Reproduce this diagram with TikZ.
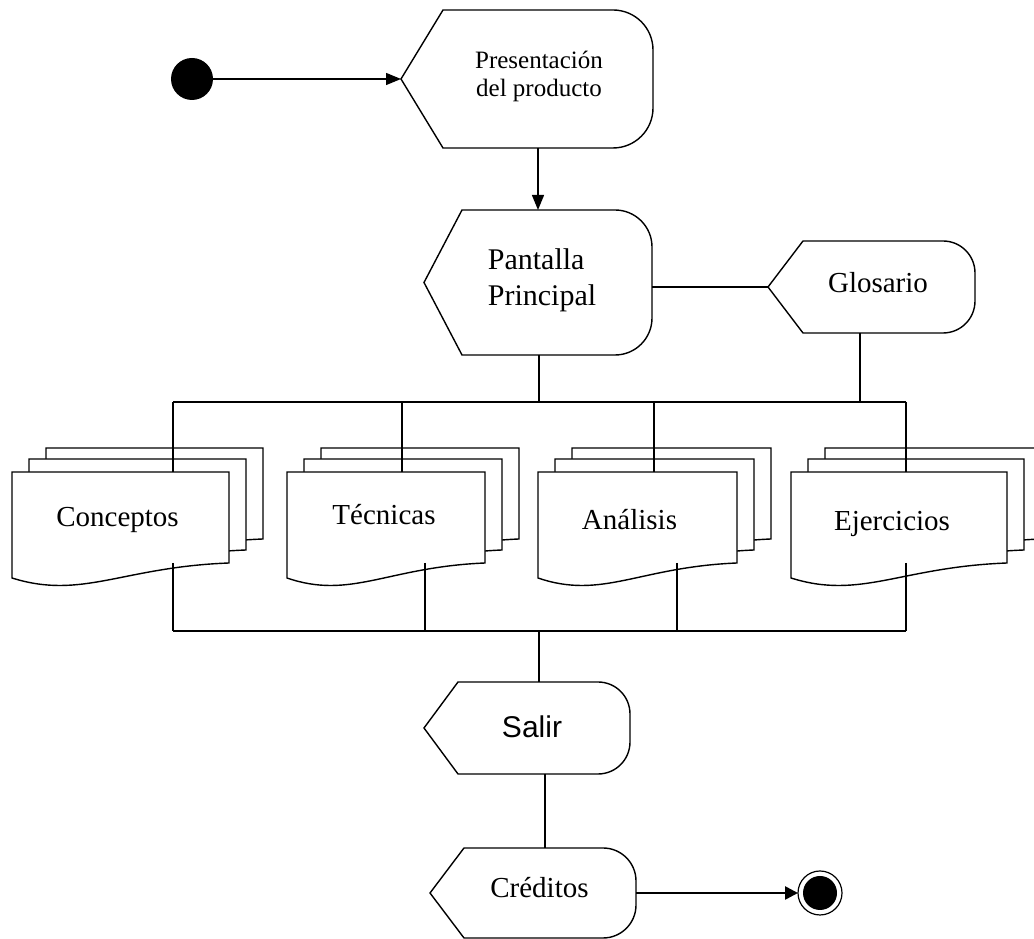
\documentclass[tikz,border=0pt]{standalone}
\usepackage{fontspec}
\setmainfont{Liberation Serif}
\newfontfamily\salirfont{Liberation Sans}
\usetikzlibrary{arrows.meta,calc,backgrounds}

% Outline of a "display" symbol around a frame node: pointed left end, rounded right end.
% #1 node, #2 depth of the point, #3 radius of the right corners
\newcommand\dispoutline[3]{%
  \draw[outline] (#1.west) -- ([xshift=#2]#1.north west) -- ([xshift=-#3]#1.north east)
    arc[start angle=90,end angle=0,radius=#3] -- ([yshift=#3]#1.south east)
    arc[start angle=0,end angle=-90,radius=#3] -- ([xshift=#2]#1.south west) -- cycle;}

% Stack of three wavy-bottomed documents; the frame node is the front sheet.
\newcommand\docstack[1]{%
  \foreach \dx/\dy in {34/24,17/13,0/0}{%
    \draw[outline] ([shift={(\dx,\dy)}]#1.north west) -- ([shift={(\dx,\dy)}]#1.north east)
      -- ([shift={(\dx,\dy)}]#1.south east)
      .. controls ($(#1.south west)!0.507!(#1.south east)+(\dx,\dy-4)$)
      and ($(#1.south west)!0.323!(#1.south east)+(\dx,\dy-37)$)
      .. ([shift={(\dx,\dy-15)}]#1.south west) -- cycle;}}

\begin{document}
\begin{tikzpicture}[x=1pt,y=1pt,
  frame/.style={inner sep=0pt,outer sep=0pt,draw=none},
  lbl/.style={inner sep=0pt,align=center},
  big/.style={font=\fontsize{29}{34}\selectfont},
  outline/.style={draw=black,fill=white,line width=1.4pt,line join=miter},
  conn/.style={draw=black,line width=1.4pt},
  flow/.style={conn,-{Triangle[length=15pt,width=12pt]}},
  flowbold/.style={draw=black,line width=2.6pt,-{Triangle[length=13pt,width=13pt]}},
  startstate/.style={circle,fill=black,draw=none,minimum size=42pt,inner sep=0pt,outer sep=0pt},
  endstate/.style={circle,draw=black,line width=1.2pt,minimum size=44pt,inner sep=0pt,outer sep=0pt,
    path picture={\fill[black] (path picture bounding box.center) circle (17pt);}}
]
\useasboundingbox (0,0) rectangle (1034,939);

% ---- states and screens ----
\node[startstate] (start) at (192,860) {};

\node[frame,minimum width=252pt,minimum height=138pt,
  label={[lbl,name=pres-text,xshift=12pt,yshift=2.5pt,font=\fontsize{25}{28}\selectfont]center:{Presentación\\del producto}}]
  (pres) at (527,860) {};

\node[frame,minimum width=228pt,minimum height=145pt,
  label={[lbl,name=pp-text,align=left,xshift=4pt,yshift=2pt,font=\fontsize{30}{36}\selectfont]center:{Pantalla\\Principal}}]
  (pp) at (538,656.5) {};

\node[frame,minimum width=207pt,minimum height=92pt,
  label={[lbl,big,name=glos-text,xshift=6.5pt,yshift=4pt]center:Glosario}]
  (glos) at (871.5,652) {};

\node[frame,minimum width=217pt,minimum height=91pt,
  label={[lbl,big,name=conc-text,xshift=-3pt,yshift=-2.8pt]center:Conceptos}]
  (conc) at (120.5,421.5) {};
\node[frame,minimum width=198pt,minimum height=91pt,
  label={[lbl,big,name=tec-text,xshift=-2pt,yshift=2.5pt]center:Técnicas}]
  (tec) at (386,421.5) {};
\node[frame,minimum width=199pt,minimum height=91pt,
  label={[lbl,big,name=ana-text,xshift=-8pt,yshift=-2.5pt]center:Análisis}]
  (ana) at (637.5,421.5) {};
\node[frame,minimum width=216pt,minimum height=91pt,
  label={[lbl,big,name=ejer-text,xshift=-7pt,yshift=-6pt]center:Ejercicios}]
  (ejer) at (899,421.5) {};

\node[frame,minimum width=206pt,minimum height=92pt,
  label={[lbl,name=salir-text,xshift=5pt,yshift=1.7pt,font=\salirfont\fontsize{30}{34}\selectfont]center:Salir}]
  (salir) at (527,211) {};

\node[frame,minimum width=206pt,minimum height=90pt,
  label={[lbl,big,name=cred-text,xshift=6.5pt,yshift=5pt]center:Créditos}]
  (cred) at (533,46) {};

\node[endstate] (end) at (820,46) {};

% ---- symbol outlines, beneath texts and connectors ----
\begin{scope}[on background layer]
  \dispoutline{pres}{42pt}{40pt}
  \dispoutline{pp}{38pt}{37pt}
  \dispoutline{glos}{35pt}{32pt}
  \dispoutline{salir}{34pt}{32pt}
  \dispoutline{cred}{34pt}{33pt}
  \docstack{conc}
  \docstack{tec}
  \docstack{ana}
  \docstack{ejer}
\end{scope}

% ---- junctions of the two buses ----
\coordinate (jpp) at (539,537);
\coordinate (jg) at (860,537);
\coordinate (jc1) at (173,537);
\coordinate (jc2) at (402,537);
\coordinate (jc3) at (654,537);
\coordinate (jc4) at (906,537);
\coordinate (ks) at (539,308);
\coordinate (kc1) at (173,308);
\coordinate (kc2) at (425,308);
\coordinate (kc3) at (677,308);
\coordinate (kc4) at (906,308);
\coordinate (sc) at (545,0);

% ---- connectors ----
\draw[flow] (start) -- (pres.west);
\draw[flow] (pp.north |- pres.south) -- (pp.north);
\draw[conn] (glos.west -| pp.east) -- (glos.west);

\draw[conn] (jpp |- pp.south) -- (jpp);
\draw[conn] (jg |- glos.south) -- (jg);
\draw[conn] (jc1) -- (jc4);
\draw[conn] (jc1) -- (jc1 |- conc.north);
\draw[conn] (jc2) -- (jc2 |- tec.north);
\draw[conn] (jc3) -- (jc3 |- ana.north);
\draw[conn] (jc4) -- (jc4 |- ejer.north);

\draw[conn] (kc1 |- conc.south) -- (kc1);
\draw[conn] (kc2 |- tec.south) -- (kc2);
\draw[conn] (kc3 |- ana.south) -- (kc3);
\draw[conn] (kc4 |- ejer.south) -- (kc4);
\draw[conn] (kc1) -- (kc4);
\draw[conn] (ks) -- (ks |- salir.north);

\draw[conn] (sc |- salir.south) -- (sc |- cred.north);
\draw[flowbold] (cred.east) -- (end.west);
\end{tikzpicture}
\end{document}
